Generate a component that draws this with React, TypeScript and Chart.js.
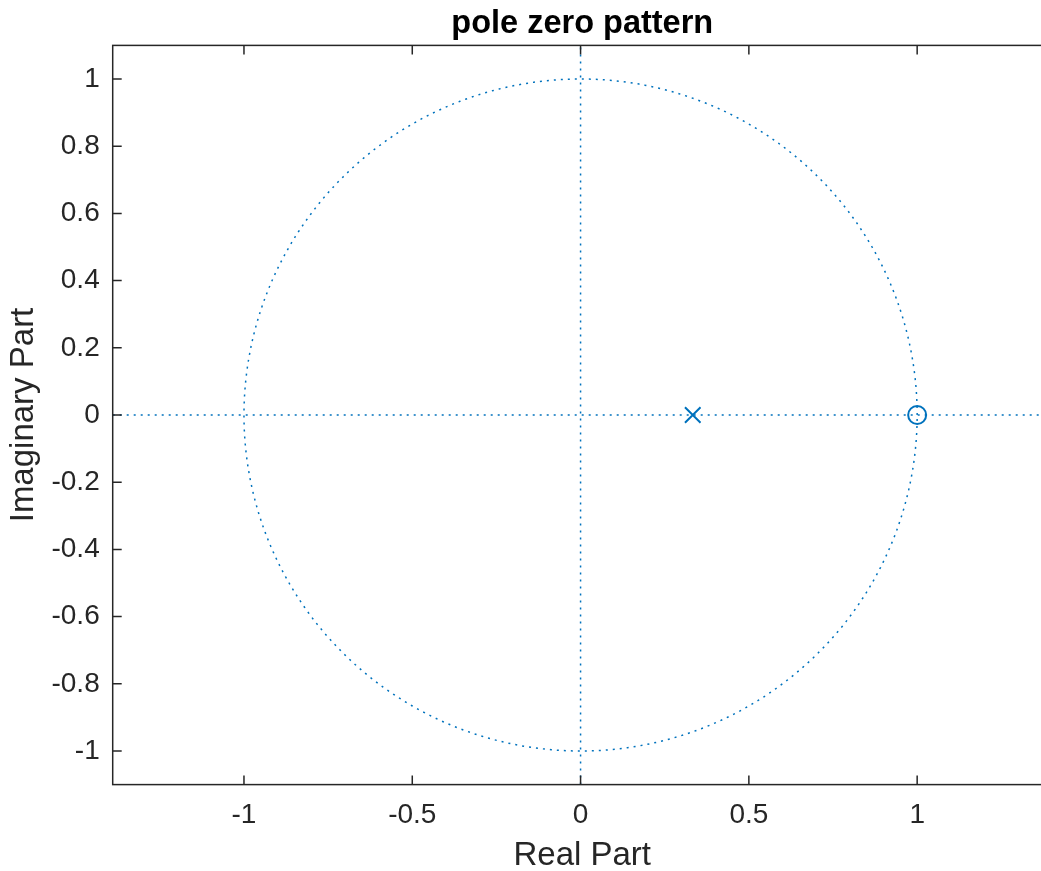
import React, { useEffect, useRef } from "react";
import { Chart, registerables } from "chart.js";

Chart.register(...registerables);

// ---- data ----
const xLimits = [-1.39, 1.4];
const yLimits = [-1.1, 1.1];
const xTickValues = [-1, -0.5, 0, 0.5, 1];
const xTickLabels = ["-1", "-0.5", "0", "0.5", "1"];
const yTickValues = [-1, -0.8, -0.6, -0.4, -0.2, 0, 0.2, 0.4, 0.6, 0.8, 1];
const yTickLabels = ["-1", "-0.8", "-0.6", "-0.4", "-0.2", "0", "0.2", "0.4", "0.6", "0.8", "1"];
const polesRe = [0.3333];
const polesIm = [0];
const zerosRe = [1];
const zerosIm = [0];
// unit circle reference (geometric, as drawn by zplane)
const circleAngles = Array.from({ length: 361 }, (_, i) => (i * Math.PI) / 180);

const BLUE = "#0072BD";
const AXIS_COLOR = "#262626";
const FONT = "'Liberation Sans', Arial, Helvetica, sans-serif";
const TICK_LEN = 9;

const boxPlugin = {
  id: "matlabBox",
  afterDatasetsDraw(chart: any) {
    const { ctx, chartArea: a, scales } = chart;
    ctx.save();
    ctx.strokeStyle = AXIS_COLOR;
    ctx.lineWidth = 1.5;
    ctx.strokeRect(a.left, a.top, a.right - a.left, a.bottom - a.top);
    ctx.beginPath();
    scales.x.ticks.forEach((t: any) => {
      const px = scales.x.getPixelForValue(t.value);
      ctx.moveTo(px, a.bottom);
      ctx.lineTo(px, a.bottom - TICK_LEN);
      ctx.moveTo(px, a.top);
      ctx.lineTo(px, a.top + TICK_LEN);
    });
    scales.y.ticks.forEach((t: any) => {
      const py = scales.y.getPixelForValue(t.value);
      ctx.moveTo(a.left, py);
      ctx.lineTo(a.left + TICK_LEN, py);
      ctx.moveTo(a.right, py);
      ctx.lineTo(a.right - TICK_LEN, py);
    });
    ctx.stroke();
    ctx.restore();
  },
};

export default function App() {
  const ref = useRef<HTMLCanvasElement | null>(null);

  useEffect(() => {
    if (!ref.current) return;
    const unitCircle = circleAngles.map((t) => ({ x: Math.cos(t), y: Math.sin(t) }));
    const realAxis = [
      { x: xLimits[0], y: 0 },
      { x: xLimits[1], y: 0 },
    ];
    const imagAxis = [
      { x: 0, y: yLimits[0] },
      { x: 0, y: yLimits[1] },
    ];
    const poles = polesRe.map((x, i) => ({ x, y: polesIm[i] }));
    const zeros = zerosRe.map((x, i) => ({ x, y: zerosIm[i] }));

    const dotted = {
      showLine: true,
      borderColor: BLUE,
      borderWidth: 1.5,
      borderDash: [2, 5],
      pointRadius: 0,
      tension: 0,
      fill: false,
    };

    const chart = new Chart(ref.current, {
      type: "scatter",
      data: {
        datasets: [
          {
            label: "poles",
            data: poles,
            pointStyle: "crossRot",
            pointRadius: 11,
            borderColor: BLUE,
            borderWidth: 2,
            backgroundColor: "transparent",
            order: 0,
          },
          {
            label: "zeros",
            data: zeros,
            pointStyle: "circle",
            pointRadius: 9,
            borderColor: BLUE,
            borderWidth: 2,
            backgroundColor: "transparent",
            order: 0,
          },
          { label: "unit circle", data: unitCircle, ...dotted, order: 1 },
          { label: "real axis", data: realAxis, ...dotted, order: 1 },
          { label: "imag axis", data: imagAxis, ...dotted, order: 1 },
        ] as any,
      },
      options: {
        animation: false,
        responsive: false,
        devicePixelRatio: 1,
        layout: {
          autoPadding: false,
          padding: { left: 0, right: 1060 - (580.7 + 1.4 * 336.5), top: 0, bottom: 0 },
        },
        plugins: {
          legend: { display: false },
          tooltip: { enabled: false },
          title: {
            display: true,
            text: "pole zero pattern",
            fullSize: false,
            color: "#000",
            font: { family: FONT, size: 32.5, weight: "bold", lineHeight: 1.2 },
            padding: { top: 5, bottom: 1.4 },
          },
        },
        scales: {
          x: {
            type: "linear",
            min: xLimits[0],
            max: xLimits[1],
            grid: { display: false, drawTicks: false, tickLength: 0 },
            border: { display: false },
            afterBuildTicks: (s: any) => {
              s.ticks = xTickValues.map((v) => ({ value: v }));
            },
            afterFit: (s: any) => {
              s.height = 871 - 784.6;
            },
            ticks: {
              color: AXIS_COLOR,
              font: { family: FONT, size: 28, lineHeight: 1.2 },
              padding: 14,
              maxRotation: 0,
              autoSkip: false,
              callback: (_v: any, i: number) => xTickLabels[i],
            },
            title: {
              display: true,
              text: "Real Part",
              color: AXIS_COLOR,
              font: { family: FONT, size: 33, lineHeight: 0.8 },
              padding: { top: 0, bottom: 2 },
            },
          },
          y: {
            type: "linear",
            min: yLimits[0],
            max: yLimits[1],
            grid: { display: false, drawTicks: false, tickLength: 0 },
            border: { display: false },
            afterBuildTicks: (s: any) => {
              s.ticks = yTickValues.map((v) => ({ value: v }));
            },
            afterFit: (s: any) => {
              s.width = 112.7;
            },
            ticks: {
              color: AXIS_COLOR,
              font: { family: FONT, size: 28, lineHeight: 1.2 },
              padding: 13,
              autoSkip: false,
              callback: (_v: any, i: number) => yTickLabels[i],
            },
            title: {
              display: true,
              text: "Imaginary Part",
              color: AXIS_COLOR,
              font: { family: FONT, size: 33, lineHeight: 0.8 },
              padding: { top: 11, bottom: 0 },
            },
          },
        },
      } as any,
      plugins: [boxPlugin],
    });
    return () => chart.destroy();
  }, []);

  return (
    <div
      style={{
        position: "fixed",
        left: 0,
        top: 0,
        width: 1041,
        height: 871,
        overflow: "hidden",
        background: "#fff",
      }}
    >
      <canvas ref={ref} width={1060} height={871} style={{ display: "block", width: 1060, height: 871 }} />
    </div>
  );
}
